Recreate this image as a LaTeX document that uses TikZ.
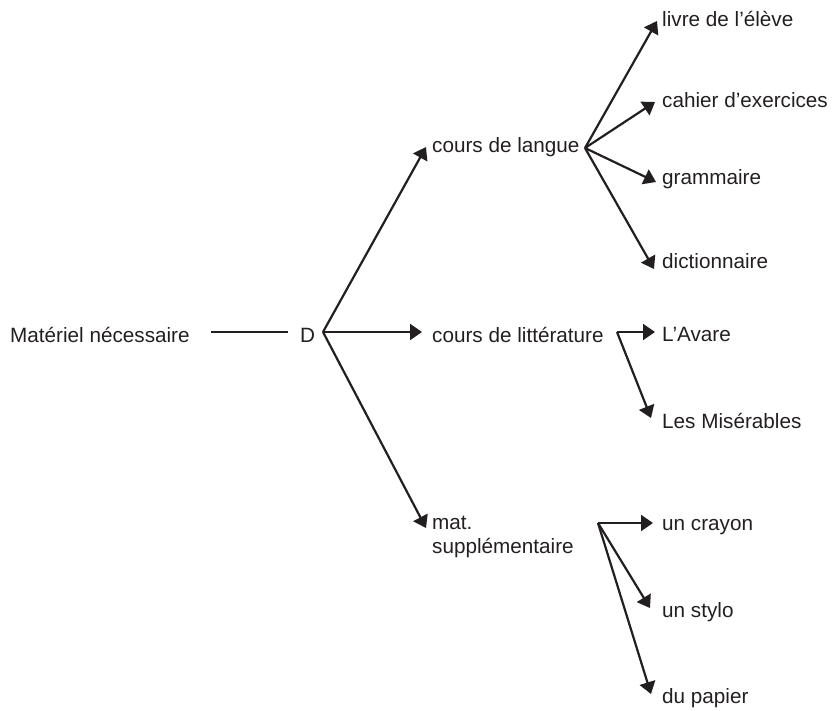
\documentclass[tikz,border=0pt]{standalone}
\usepackage{fontspec}
\setmainfont{Liberation Sans}
\usetikzlibrary{arrows.meta}
\definecolor{ink}{HTML}{231F20}
\tikzset{
  lbl/.style={anchor=base west, inner sep=0pt, text=ink, font=\fontsize{20.7}{23.5}\selectfont},
  conn/.style={draw=ink, line width=2.2pt},
  arr/.style={conn, -{Triangle[length=12pt,width=16pt]}},
}
\begin{document}
\begin{tikzpicture}[x=1pt,y=-1pt]
\useasboundingbox (0,0) rectangle (834,711);
% text nodes
\node[lbl] (mat) at (10,342) {Matériel nécessaire};
\node[lbl] (d) at (300,342) {D};
\node[lbl] (cl) at (432,153) {cours de langue};
\node[lbl] (clit) at (432,342) {cours de littérature};
\node[lbl, align=left] (sup) at (432,553) {mat.\\supplémentaire};
\node[lbl] (livre) at (662,27) {livre de l’élève};
\node[lbl] (cahier) at (662,108) {cahier d’exercices};
\node[lbl] (gram) at (662,185) {grammaire};
\node[lbl] (dict) at (662,268) {dictionnaire};
\node[lbl] (avare) at (662,341) {L’Avare};
\node[lbl] (mis) at (662,428) {Les Misérables};
\node[lbl] (crayon) at (662,530) {un crayon};
\node[lbl] (stylo) at (662,617) {un stylo};
\node[lbl] (papier) at (662,703) {du papier};
% branch points
\coordinate (v1) at (323,332);
\coordinate (v2) at (585,148);
\coordinate (v3) at (617,332);
\coordinate (v4) at (598,523);
% arrow tips
\coordinate (tcl) at (426,147);
\coordinate (tclit) at (422,332);
\coordinate (tsup) at (426,528);
\coordinate (tlivre) at (657,21);
\coordinate (tcahier) at (655,102);
\coordinate (tgram) at (656,182);
\coordinate (tdict) at (654,269);
\coordinate (tavare) at (655,332);
\coordinate (tmis) at (651,418);
\coordinate (tcrayon) at (653,523);
\coordinate (tstylo) at (650,608);
\coordinate (tpapier) at (651,694);
% connectors
\draw[conn, shorten <=21pt, shorten >=12pt] (mat.east |- v1) -- (d.west |- v1);
\draw[arr] (v1) -- (tcl);
\draw[arr] (v1) -- (tclit);
\draw[arr] (v1) -- (tsup);
\draw[arr] (v2) -- (tlivre);
\draw[arr] (v2) -- (tcahier);
\draw[arr] (v2) -- (tgram);
\draw[arr] (v2) -- (tdict);
\draw[arr] (v3) -- (tavare);
\draw[arr] (v3) -- (tmis);
\draw[arr] (v4) -- (tcrayon);
\draw[arr] (v4) -- (tstylo);
\draw[arr] (v4) -- (tpapier);
\end{tikzpicture}
\end{document}
